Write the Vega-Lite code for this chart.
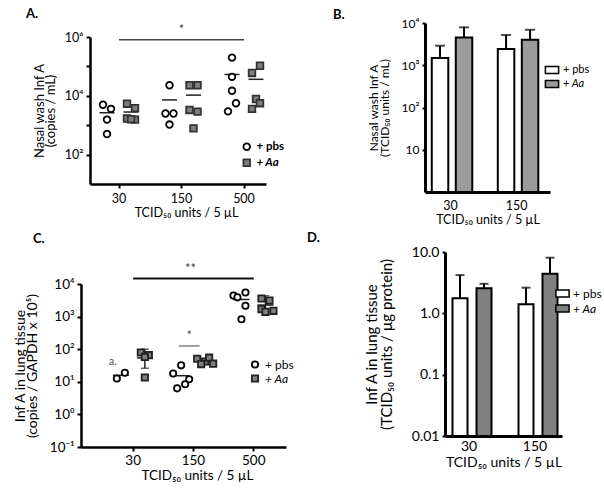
{
  "$schema": "https://vega.github.io/schema/vega-lite/v6.json",
  "padding": {"left": 13, "top": 7, "right": 0, "bottom": 0},
  "config": {
    "font": "Lato",
    "view": {"stroke": null},
    "axis": {"labelColor": "black", "titleColor": "black", "domainColor": "black", "tickColor": "black", "grid": false, "titleFontWeight": "normal", "labelOverlap": false, "labelFlush": false},
    "title": {"anchor": "start", "frame": "group", "fontSize": 13, "fontWeight": "bold", "color": "black"},
    "legend": {"padding": 0, "labelColor": "black", "title": null, "labelFontStyle": {"expr": "datum.value === 'Aa' ? 'italic' : 'normal'"}}
  },
  "datasets": {
    "nasal": [
      {"dose": "30", "group": "pbs", "lane": "p1L", "v": 4950},
      {"dose": "30", "group": "pbs", "lane": "p1R", "v": 3600},
      {"dose": "30", "group": "pbs", "lane": "pbs", "v": 1550},
      {"dose": "30", "group": "pbs", "lane": "pbs", "v": 500},
      {"dose": "30", "group": "Aa", "lane": "a1L", "v": 5400},
      {"dose": "30", "group": "Aa", "lane": "a1R", "v": 3800},
      {"dose": "30", "group": "Aa", "lane": "a1L", "v": 1700},
      {"dose": "30", "group": "Aa", "lane": "a1R", "v": 1550},
      {"dose": "30", "group": "Aa", "lane": "Aa", "v": 1600},
      {"dose": "150", "group": "pbs", "lane": "pbs", "v": 22900},
      {"dose": "150", "group": "pbs", "lane": "p1L", "v": 2500},
      {"dose": "150", "group": "pbs", "lane": "p1R", "v": 2500},
      {"dose": "150", "group": "pbs", "lane": "pbs", "v": 1050},
      {"dose": "150", "group": "Aa", "lane": "a1L", "v": 22900},
      {"dose": "150", "group": "Aa", "lane": "a1R", "v": 22900},
      {"dose": "150", "group": "Aa", "lane": "a1L", "v": 3300},
      {"dose": "150", "group": "Aa", "lane": "a1R", "v": 2900},
      {"dose": "150", "group": "Aa", "lane": "Aa", "v": 780},
      {"dose": "500", "group": "pbs", "lane": "pbs", "v": 199000},
      {"dose": "500", "group": "pbs", "lane": "pbs", "v": 44000},
      {"dose": "500", "group": "pbs", "lane": "pbs", "v": 14800},
      {"dose": "500", "group": "pbs", "lane": "p1R", "v": 5600},
      {"dose": "500", "group": "pbs", "lane": "p1L", "v": 2950},
      {"dose": "500", "group": "Aa", "lane": "a1L", "v": 60000},
      {"dose": "500", "group": "Aa", "lane": "a1R", "v": 105000},
      {"dose": "500", "group": "Aa", "lane": "Aa", "v": 7800},
      {"dose": "500", "group": "Aa", "lane": "a1R", "v": 5600},
      {"dose": "500", "group": "Aa", "lane": "a1L", "v": 3600}
    ],
    "lung": [
      {"dose": "30", "group": "pbs", "lane": "p1L", "v": 12.6},
      {"dose": "30", "group": "pbs", "lane": "p1R", "v": 19},
      {"dose": "30", "group": "Aa", "lane": "a1L", "v": 79},
      {"dose": "30", "group": "Aa", "lane": "a1R", "v": 66},
      {"dose": "30", "group": "Aa", "lane": "Aa", "v": 58},
      {"dose": "30", "group": "Aa", "lane": "Aa", "v": 13.5},
      {"dose": "150", "group": "pbs", "lane": "pbs", "v": 32},
      {"dose": "150", "group": "pbs", "lane": "p2L", "v": 18},
      {"dose": "150", "group": "pbs", "lane": "p2R", "v": 12},
      {"dose": "150", "group": "pbs", "lane": "p1R", "v": 8.4},
      {"dose": "150", "group": "pbs", "lane": "p1L", "v": 6.3},
      {"dose": "150", "group": "Aa", "lane": "a2L", "v": 51},
      {"dose": "150", "group": "Aa", "lane": "Aa", "v": 42},
      {"dose": "150", "group": "Aa", "lane": "a1R", "v": 55},
      {"dose": "150", "group": "Aa", "lane": "a1L", "v": 35},
      {"dose": "150", "group": "Aa", "lane": "a2R", "v": 36},
      {"dose": "500", "group": "pbs", "lane": "p2L", "v": 4400},
      {"dose": "500", "group": "pbs", "lane": "p1L", "v": 3900},
      {"dose": "500", "group": "pbs", "lane": "p1R", "v": 5500},
      {"dose": "500", "group": "pbs", "lane": "p1R", "v": 2150},
      {"dose": "500", "group": "pbs", "lane": "pbs", "v": 830},
      {"dose": "500", "group": "Aa", "lane": "a1L", "v": 3600},
      {"dose": "500", "group": "Aa", "lane": "a1R", "v": 3100},
      {"dose": "500", "group": "Aa", "lane": "a1L", "v": 1700},
      {"dose": "500", "group": "Aa", "lane": "Aa", "v": 1400},
      {"dose": "500", "group": "Aa", "lane": "a2R", "v": 1500}
    ]
  },
  "spacing": 5,
  "resolve": {"scale": {"fill": "independent", "shape": "independent", "stroke": "independent"}, "legend": {"fill": "independent", "shape": "independent", "stroke": "independent"}},
  "vconcat": [
    {
      "spacing": 48,
      "resolve": {"scale": {"fill": "independent", "shape": "independent", "stroke": "independent"}, "legend": {"fill": "independent", "shape": "independent", "stroke": "independent"}},
      "hconcat": [
        {
          "width": 185,
          "height": 161,
          "title": {"text": "A.", "dx": -55, "offset": 2.5},
          "encoding": {
            "x": {"field": "dose", "type": "nominal",
              "scale": {"domain": ["30", "150", "500"], "range": [9, 185], "paddingInner": 0.296, "paddingOuter": 0.056, "align": 1},
              "axis": {"title": "TCID₅₀ units / 5 µL", "titleX": 105, "labelAngle": 0, "domainWidth": 2.5, "tickWidth": 2, "tickSize": 4, "labelFontSize": 12.5, "labelPadding": 4, "titleFontSize": 12.5, "titlePadding": 2}}
          },
          "layer": [
            {
              "data": {"name": "nasal"},
              "mark": {"type": "tick", "orient": "horizontal", "size": 15, "thickness": 1.5, "color": "#222222"},
              "encoding": {
                "xOffset": {"field": "group", "scale": {"domain": ["p2L", "p1L", "pbs", "p1R", "p2R", "gap", "a2L", "a1L", "Aa", "a1R", "a2R"], "paddingInner": 0, "paddingOuter": 0}},
                "y": {"aggregate": "mean", "field": "v", "type": "quantitative"}
              }
            },
            {
              "data": {"name": "nasal"},
              "mark": {"type": "point", "filled": true, "size": 44, "strokeWidth": 1.8, "opacity": 1},
              "encoding": {
                "xOffset": {"field": "lane", "scale": {"domain": ["p2L", "p1L", "pbs", "p1R", "p2R", "gap", "a2L", "a1L", "Aa", "a1R", "a2R"], "paddingInner": 0, "paddingOuter": 0}},
                "y": {"field": "v", "type": "quantitative",
                  "scale": {"type": "log", "domain": [10, 1000000], "range": [161, 14]},
                  "axis": {"values": [100, 1000, 10000, 100000, 1000000], "offset": -9,
                    "labelExpr": "datum.value == 100 ? '10²' : datum.value == 10000 ? '10⁴' : datum.value == 1000000 ? '10⁶' : ''",
                    "title": ["Nasal wash Inf A", "(copies / mL)"], "titleFontSize": 13, "titleLineHeight": 11,
                    "domainWidth": 2.5, "tickWidth": 2, "tickSize": 4, "labelFontSize": 12.5, "labelPadding": 3, "titlePadding": 7}},
                "shape": {"field": "group", "type": "nominal", "scale": {"domain": ["pbs", "Aa"], "range": ["circle", "square"]},
                  "legend": {"orient": "none", "legendX": 160, "legendY": 118, "labelExpr": "'+ ' + datum.label", "labelFontSize": 11.5, "labelFontWeight": "bold", "rowPadding": 1, "symbolStrokeWidth": 1.8, "symbolSize": 44}},
                "fill": {"field": "group", "type": "nominal", "scale": {"domain": ["pbs", "Aa"], "range": ["#ffffff", "#7f7f7f"]},
                  "legend": {"orient": "none", "legendX": 160, "legendY": 118, "labelExpr": "'+ ' + datum.label", "labelFontSize": 11.5, "labelFontWeight": "bold", "rowPadding": 1, "symbolStrokeWidth": 1.8, "symbolSize": 44}},
                "stroke": {"field": "group", "type": "nominal", "scale": {"domain": ["pbs", "Aa"], "range": ["#000000", "#333333"]},
                  "legend": {"orient": "none", "legendX": 160, "legendY": 118, "labelExpr": "'+ ' + datum.label", "labelFontSize": 11.5, "labelFontWeight": "bold", "rowPadding": 1, "symbolStrokeWidth": 1.8, "symbolSize": 44}}
              }
            },
            {
              "data": {"values": [{"a": "30", "b": "500", "y": 800000}]},
              "mark": {"type": "rule", "strokeWidth": 1.5, "color": "#444444"},
              "encoding": {"x": {"field": "a", "type": "nominal"}, "x2": {"field": "b"}, "y": {"field": "y", "type": "quantitative"}}
            },
            {
              "data": {"values": [{"c": "150", "y": 800000, "t": "*"}]},
              "mark": {"type": "text", "dy": -10, "fontSize": 13, "color": "#444444"},
              "encoding": {"x": {"field": "c", "type": "nominal"}, "y": {"field": "y", "type": "quantitative"}, "text": {"field": "t"}}
            }
          ]
        },
        {
          "width": 125,
          "height": 169,
          "title": {"text": "B.", "dx": -92, "offset": -4.5},
          "data": {"values": [
            {"dose": "30", "group": "pbs", "v": 1480, "hi": 2900},
            {"dose": "30", "group": "Aa", "v": 4560, "hi": 7900},
            {"dose": "150", "group": "pbs", "v": 2420, "hi": 5200},
            {"dose": "150", "group": "Aa", "v": 4000, "hi": 6900}
          ]},
          "encoding": {
            "x": {"field": "dose", "type": "nominal",
              "scale": {"domain": ["30", "150"], "paddingInner": 0.379, "paddingOuter": 0.136, "align": 0.28},
              "axis": {"title": "TCID₅₀ units / 5 µL", "labelAngle": 0, "domainWidth": 3, "ticks": false, "labelFontSize": 12.5, "labelPadding": 7, "titleFontSize": 12.5, "titlePadding": 2}},
            "xOffset": {"field": "group", "scale": {"domain": ["pbs", "Aa"], "paddingInner": 0.255, "paddingOuter": 0}}
          },
          "layer": [
            {
              "mark": {"type": "bar", "stroke": "black", "strokeWidth": 2, "width": 16.5},
              "encoding": {
                "y": {"field": "v", "type": "quantitative", "scale": {"type": "log", "domain": [1, 10000]},
                  "axis": {"values": [10, 100, 1000, 10000],
                    "labelExpr": "datum.value == 10 ? '10' : datum.value == 100 ? '10²' : datum.value == 1000 ? '10³' : '10⁴'",
                    "title": ["Nasal wash Inf A", "(TCID₅₀ units / mL)"], "titleFontSize": 12, "titleLineHeight": 11,
                    "domainWidth": 3, "tickWidth": 2, "tickSize": 3, "labelFontSize": 12, "labelPadding": 3, "titlePadding": 10}},
                "y2": {"datum": 1},
                "fill": {"field": "group", "type": "nominal", "scale": {"domain": ["pbs", "Aa"], "range": ["#ffffff", "#9b9b9b"]},
                  "legend": {"orient": "none", "legendX": 120, "legendY": 40, "labelExpr": "'+ ' + datum.label", "labelFontSize": 11, "rowPadding": 0,
                    "symbolType": "M-1.1,-0.6H1.1V0.6H-1.1Z", "symbolSize": 144, "symbolStrokeColor": "black", "symbolStrokeWidth": 1.5}}
              }
            },
            {
              "mark": {"type": "rule", "strokeWidth": 2, "color": "black"},
              "encoding": {"y": {"field": "v", "type": "quantitative"}, "y2": {"field": "hi"}}
            },
            {
              "mark": {"type": "tick", "orient": "horizontal", "size": 10, "thickness": 2, "color": "black"},
              "encoding": {"y": {"field": "hi", "type": "quantitative"}}
            }
          ]
        }
      ]
    },
    {
      "spacing": 13,
      "resolve": {"scale": {"fill": "independent", "shape": "independent", "stroke": "independent"}, "legend": {"fill": "independent", "shape": "independent", "stroke": "independent"}},
      "hconcat": [
        {
          "width": 205,
          "height": 195,
          "title": {"text": "C.", "dx": -48, "offset": 6.5},
          "encoding": {
            "x": {"field": "dose", "type": "nominal",
              "scale": {"domain": ["30", "150", "500"], "paddingInner": 0.2605, "paddingOuter": 0.33, "align": 0.75},
              "axis": {"title": "TCID₅₀ units / 5 µL", "titleX": 116, "labelAngle": 0, "domainWidth": 2.5, "tickWidth": 2, "tickSize": 4, "labelFontSize": 13.5, "labelPadding": 2, "titleFontSize": 13.5, "titlePadding": 2}}
          },
          "layer": [
            {
              "mark": {"type": "rule", "strokeDash": [3, 2], "strokeWidth": 1, "color": "#9a9a9a"},
              "encoding": {"x": null, "y": {"datum": 1, "type": "quantitative"}}
            },
            {
              "data": {"name": "lung"},
              "mark": {"type": "tick", "orient": "horizontal", "size": 16, "thickness": 1.5, "color": "#222222"},
              "encoding": {
                "xOffset": {"field": "group", "scale": {"domain": ["p2L", "p1L", "pbs", "p1R", "p2R", "gap", "a2L", "a1L", "Aa", "a1R", "a2R"], "paddingInner": 0, "paddingOuter": 0}},
                "y": {"aggregate": "mean", "field": "v", "type": "quantitative"}
              }
            },
            {
              "data": {"values": [
                {"dose": "30", "group": "Aa", "lo": 26, "hi": 100},
                {"dose": "500", "group": "Aa", "lo": 1120, "hi": 4370}
              ]},
              "layer": [
                {
                  "mark": {"type": "rule", "strokeWidth": 1.5, "color": "#222222"},
                  "encoding": {
                    "xOffset": {"field": "group", "scale": {"domain": ["p2L", "p1L", "pbs", "p1R", "p2R", "gap", "a2L", "a1L", "Aa", "a1R", "a2R"], "paddingInner": 0, "paddingOuter": 0}},
                    "y": {"field": "lo", "type": "quantitative"}, "y2": {"field": "hi"}
                  }
                },
                {
                  "mark": {"type": "tick", "orient": "horizontal", "size": 8, "thickness": 1.5, "color": "#222222"},
                  "encoding": {
                    "xOffset": {"field": "group", "scale": {"domain": ["p2L", "p1L", "pbs", "p1R", "p2R", "gap", "a2L", "a1L", "Aa", "a1R", "a2R"], "paddingInner": 0, "paddingOuter": 0}},
                    "y": {"field": "lo", "type": "quantitative"}
                  }
                },
                {
                  "mark": {"type": "tick", "orient": "horizontal", "size": 8, "thickness": 1.5, "color": "#222222"},
                  "encoding": {
                    "xOffset": {"field": "group", "scale": {"domain": ["p2L", "p1L", "pbs", "p1R", "p2R", "gap", "a2L", "a1L", "Aa", "a1R", "a2R"], "paddingInner": 0, "paddingOuter": 0}},
                    "y": {"field": "hi", "type": "quantitative"}
                  }
                }
              ]
            },
            {
              "data": {"name": "lung"},
              "mark": {"type": "point", "filled": true, "size": 40, "strokeWidth": 1.8, "opacity": 1},
              "encoding": {
                "xOffset": {"field": "lane", "scale": {"domain": ["p2L", "p1L", "pbs", "p1R", "p2R", "gap", "a2L", "a1L", "Aa", "a1R", "a2R"], "paddingInner": 0, "paddingOuter": 0}},
                "y": {"field": "v", "type": "quantitative",
                  "scale": {"type": "log", "domain": [0.1, 10000], "range": [195, 32]},
                  "axis": {"values": [0.1, 1, 10, 100, 1000, 10000],
                    "labelExpr": "datum.value < 0.5 ? '10⁻¹' : datum.value < 5 ? '10⁰' : datum.value < 50 ? '10¹' : datum.value < 500 ? '10²' : datum.value < 5000 ? '10³' : '10⁴'",
                    "title": ["Inf A in lung tissue", "(copies / GAPDH x 10⁵)"], "titleFontSize": 14, "titleLineHeight": 12,
                    "domainWidth": 2.5, "tickWidth": 2, "tickSize": 4, "labelFontSize": 13.5, "labelPadding": 3, "titlePadding": 10}},
                "shape": {"field": "group", "type": "nominal", "scale": {"domain": ["pbs", "Aa"], "range": ["circle", "square"]},
                  "legend": {"orient": "none", "legendX": 168, "legendY": 106.5, "labelExpr": "'+ ' + datum.label", "labelFontSize": 12, "rowPadding": 0, "symbolStrokeWidth": 1.8, "symbolSize": 40}},
                "fill": {"field": "group", "type": "nominal", "scale": {"domain": ["pbs", "Aa"], "range": ["#ffffff", "#7f7f7f"]},
                  "legend": {"orient": "none", "legendX": 168, "legendY": 106.5, "labelExpr": "'+ ' + datum.label", "labelFontSize": 12, "rowPadding": 0, "symbolStrokeWidth": 1.8, "symbolSize": 40}},
                "stroke": {"field": "group", "type": "nominal", "scale": {"domain": ["pbs", "Aa"], "range": ["#000000", "#222222"]},
                  "legend": {"orient": "none", "legendX": 168, "legendY": 106.5, "labelExpr": "'+ ' + datum.label", "labelFontSize": 12, "rowPadding": 0, "symbolStrokeWidth": 1.8, "symbolSize": 40}}
              }
            },
            {
              "data": {"values": [{"a": "30", "b": "500", "y": 14800}]},
              "mark": {"type": "rule", "strokeWidth": 2, "color": "#111111"},
              "encoding": {"x": {"field": "a", "type": "nominal"}, "x2": {"field": "b"}, "y": {"field": "y", "type": "quantitative"}}
            },
            {
              "data": {"values": [{"c": "150", "y": 14800, "t": "**"}]},
              "mark": {"type": "text", "dy": -9, "dx": -3, "fontSize": 13, "color": "#444444"},
              "encoding": {"x": {"field": "c", "type": "nominal"}, "y": {"field": "y", "type": "quantitative"}, "text": {"field": "t"}}
            },
            {
              "data": {"values": [{"c": "150", "lane": "p2R", "y": 126, "t": "*"}]},
              "layer": [
                {
                  "mark": {"type": "tick", "orient": "horizontal", "size": 21, "thickness": 2, "color": "#777777"},
                  "encoding": {"x": {"field": "c", "type": "nominal"},
                    "xOffset": {"field": "lane", "scale": {"domain": ["p2L", "p1L", "pbs", "p1R", "p2R", "gap", "a2L", "a1L", "Aa", "a1R", "a2R"], "paddingInner": 0, "paddingOuter": 0}},
                    "y": {"field": "y", "type": "quantitative"}}
                },
                {
                  "mark": {"type": "text", "dy": -10, "fontSize": 13, "color": "#555555"},
                  "encoding": {"x": {"field": "c", "type": "nominal"},
                    "xOffset": {"field": "lane", "scale": {"domain": ["p2L", "p1L", "pbs", "p1R", "p2R", "gap", "a2L", "a1L", "Aa", "a1R", "a2R"], "paddingInner": 0, "paddingOuter": 0}},
                    "y": {"field": "y", "type": "quantitative"}, "text": {"field": "t"}}
                }
              ]
            },
            {
              "data": {"values": [{"c": "30", "lane": "p2L", "y": 40, "t": "a."}]},
              "mark": {"type": "text", "fontSize": 11, "color": "#555555"},
              "encoding": {"x": {"field": "c", "type": "nominal"},
                "xOffset": {"field": "lane", "scale": {"domain": ["p2L", "p1L", "pbs", "p1R", "p2R", "gap", "a2L", "a1L", "Aa", "a1R", "a2R"], "paddingInner": 0, "paddingOuter": 0}},
                "y": {"field": "y", "type": "quantitative"}, "text": {"field": "t"}}
            }
          ]
        },
        {
          "width": 117,
          "height": 184,
          "title": {"text": "D.", "dx": -138, "offset": 0.5},
          "data": {"values": [
            {"dose": "30", "group": "pbs", "v": 1.76, "hi": 4.2},
            {"dose": "30", "group": "Aa", "v": 2.57, "hi": 3.03},
            {"dose": "150", "group": "pbs", "v": 1.4, "hi": 2.62},
            {"dose": "150", "group": "Aa", "v": 4.43, "hi": 8.07}
          ]},
          "encoding": {
            "x": {"field": "dose", "type": "nominal",
              "scale": {"domain": ["30", "150"], "paddingInner": 0.424, "paddingOuter": 0.0985, "align": 0.385},
              "axis": {"title": "TCID₅₀ units / 5 µL", "labelAngle": 0, "domainWidth": 3, "ticks": false, "labelFontSize": 14, "labelPadding": 3, "titleFontSize": 14, "titlePadding": 2}},
            "xOffset": {"field": "group", "scale": {"domain": ["pbs", "Aa"], "paddingInner": 0.27, "paddingOuter": 0}}
          },
          "layer": [
            {
              "mark": {"type": "bar", "stroke": "black", "strokeWidth": 2, "width": 15},
              "encoding": {
                "y": {"field": "v", "type": "quantitative", "scale": {"type": "log", "domain": [0.01, 10]},
                  "axis": {"values": [0.01, 0.1, 1, 10],
                    "labelExpr": "datum.value < 0.05 ? '0.01' : format(datum.value, '.1f')",
                    "title": ["Inf A in lung tissue", "(TCID₅₀ units / µg protein)"], "titleFontSize": 15, "titleLineHeight": 15,
                    "domainWidth": 3, "tickWidth": 2, "tickSize": 3, "labelFontSize": 14, "labelPadding": 3, "titlePadding": 17}},
                "y2": {"datum": 0.01},
                "fill": {"field": "group", "type": "nominal", "scale": {"domain": ["pbs", "Aa"], "range": ["#ffffff", "#808080"]},
                  "legend": {"orient": "none", "legendX": 111, "legendY": 35, "labelExpr": "'+ ' + datum.label", "labelFontSize": 12, "rowPadding": 0,
                    "symbolType": "M-1.2,-0.65H1.2V0.65H-1.2Z", "symbolSize": 121, "symbolStrokeColor": "black", "symbolStrokeWidth": 1.5}}
              }
            },
            {
              "mark": {"type": "rule", "strokeWidth": 2, "color": "black"},
              "encoding": {"y": {"field": "v", "type": "quantitative"}, "y2": {"field": "hi"}}
            },
            {
              "mark": {"type": "tick", "orient": "horizontal", "size": 9, "thickness": 2, "color": "black"},
              "encoding": {"y": {"field": "hi", "type": "quantitative"}}
            }
          ]
        }
      ]
    }
  ]
}
